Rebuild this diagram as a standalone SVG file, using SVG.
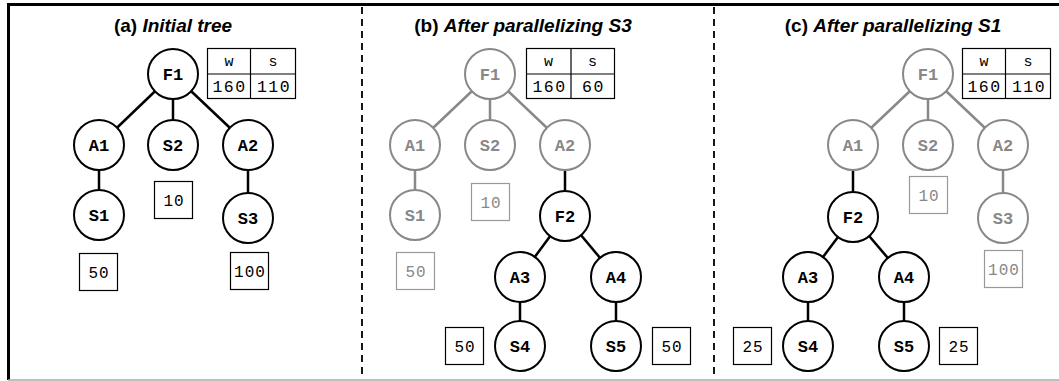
<svg xmlns="http://www.w3.org/2000/svg" width="1059" height="381" viewBox="0 0 1059 381">
  <style>
    .frame { stroke: #000; stroke-width: 3; fill: none; }
    .base { stroke: #aaa; stroke-width: 1.5; }
    .sep { stroke: #000; stroke-width: 1.8; stroke-dasharray: 7 5; }
    .title { font-family: "Liberation Sans", Arial, sans-serif; font-weight: bold; font-size: 19px; text-anchor: middle; fill: #000; }
    .title .it { font-style: italic; }
    .edge { stroke: #000; stroke-width: 2.5; }
    .edge.dim { stroke: #888; }
    .node circle { fill: #fff; stroke: #000; stroke-width: 2; }
    .node text { font-family: "Liberation Mono", "Courier New", monospace; font-weight: bold; font-size: 17px; text-anchor: middle; fill: #000; }
    .node.dim circle { stroke: #888; }
    .node.dim text { fill: #888; }
    .cost rect { fill: #fff; stroke: #000; stroke-width: 1.2; }
    .cost text { font-family: "Liberation Mono", "Courier New", monospace; font-size: 16px; letter-spacing: 1px; text-anchor: middle; fill: #000; }
    .cost.dim rect { stroke: #999; }
    .cost.dim text { fill: #888; }
    .tbl rect, .tbl line { fill: #fff; stroke: #000; stroke-width: 1.2; }
    .tbl text { font-family: "Liberation Mono", "Courier New", monospace; font-size: 16.5px; letter-spacing: 1.5px; text-anchor: middle; fill: #000; }
    .tbl text.hd { font-size: 15px; letter-spacing: 0; }
  </style>

  <!-- outer frame and panel separators -->
  <g id="frame">
    <line class="frame" x1="7" y1="4.5" x2="1059" y2="4.5"/>
    <line class="frame" x1="8.5" y1="3" x2="8.5" y2="380"/>
    <line class="base" x1="8" y1="380" x2="1059" y2="380"/>
    <line class="sep" x1="362" y1="7" x2="362" y2="378"/>
    <line class="sep" x1="714" y1="7" x2="714" y2="378"/>
  </g>

  <!-- panel titles -->
  <g id="titles">
    <text class="title" x="173" y="32">(a) <tspan class="it">Initial tree</tspan></text>
    <text class="title" x="523" y="32">(b) <tspan class="it">After parallelizing S3</tspan></text>
    <text class="title" x="893" y="32">(c) <tspan class="it">After parallelizing S1</tspan></text>
  </g>

  <!-- connectors -->
  <g id="connectors">
    <!-- (a) -->
    <line class="edge" x1="173" y1="74" x2="99" y2="145"/>
    <line class="edge" x1="173" y1="74" x2="173" y2="145"/>
    <line class="edge" x1="173" y1="74" x2="248" y2="145"/>
    <line class="edge" x1="99" y1="145" x2="99" y2="215"/>
    <line class="edge" x1="248" y1="145" x2="248" y2="218"/>
    <!-- (b) -->
    <line class="edge dim" x1="490" y1="74" x2="415" y2="145"/>
    <line class="edge dim" x1="490" y1="74" x2="490" y2="145"/>
    <line class="edge dim" x1="490" y1="74" x2="565" y2="145"/>
    <line class="edge dim" x1="415" y1="145" x2="415" y2="215"/>
    <line class="edge" x1="565" y1="145" x2="565" y2="216"/>
    <line class="edge" x1="565" y1="216" x2="520" y2="277"/>
    <line class="edge" x1="565" y1="216" x2="616" y2="277"/>
    <line class="edge" x1="520" y1="277" x2="520" y2="346"/>
    <line class="edge" x1="616" y1="277" x2="616" y2="346"/>
    <!-- (c) -->
    <line class="edge dim" x1="928" y1="74" x2="853" y2="145"/>
    <line class="edge dim" x1="928" y1="74" x2="928" y2="145"/>
    <line class="edge dim" x1="928" y1="74" x2="1003" y2="145"/>
    <line class="edge dim" x1="1003" y1="145" x2="1003" y2="218"/>
    <line class="edge" x1="853" y1="145" x2="853" y2="217"/>
    <line class="edge" x1="853" y1="217" x2="808" y2="277"/>
    <line class="edge" x1="853" y1="217" x2="904" y2="277"/>
    <line class="edge" x1="808" y1="277" x2="808" y2="346"/>
    <line class="edge" x1="904" y1="277" x2="904" y2="346"/>
  </g>

  <!-- (a) initial tree -->
  <g id="a-F1" class="node"><circle cx="173" cy="74" r="25"/><text x="173" y="80">F1</text></g>
  <g id="a-A1" class="node"><circle cx="99" cy="145" r="25"/><text x="99" y="151">A1</text></g>
  <g id="a-S2" class="node"><circle cx="173" cy="145" r="25"/><text x="173" y="151">S2</text></g>
  <g id="a-A2" class="node"><circle cx="248" cy="145" r="25"/><text x="248" y="151">A2</text></g>
  <g id="a-S1" class="node"><circle cx="99" cy="215" r="25"/><text x="99" y="221">S1</text></g>
  <g id="a-S3" class="node"><circle cx="248" cy="218" r="25"/><text x="248" y="224">S3</text></g>
  <g id="a-cost-S2" class="cost"><rect x="154.5" y="181.5" width="38" height="37"/><text x="174" y="206">10</text></g>
  <g id="a-cost-S1" class="cost"><rect x="79.5" y="253.5" width="38" height="37"/><text x="99" y="278">50</text></g>
  <g id="a-cost-S3" class="cost"><rect x="230.5" y="252.5" width="38" height="37"/><text x="250" y="277">100</text></g>
  <g id="a-table" class="tbl">
    <rect x="207.5" y="48.5" width="88" height="50"/>
    <line x1="207.5" y1="74" x2="295.5" y2="74"/>
    <line x1="250.5" y1="48.5" x2="250.5" y2="98.5"/>
    <text class="hd" x="229" y="66">w</text><text class="hd" x="273" y="66">s</text>
    <text x="229.5" y="92">160</text><text x="274" y="92">110</text>
  </g>

  <!-- (b) after parallelizing S3 -->
  <g id="b-F1" class="node dim"><circle cx="490" cy="74" r="25"/><text x="490" y="80">F1</text></g>
  <g id="b-A1" class="node dim"><circle cx="415" cy="145" r="25"/><text x="415" y="151">A1</text></g>
  <g id="b-S2" class="node dim"><circle cx="490" cy="145" r="25"/><text x="490" y="151">S2</text></g>
  <g id="b-A2" class="node dim"><circle cx="565" cy="145" r="25"/><text x="565" y="151">A2</text></g>
  <g id="b-S1" class="node dim"><circle cx="415" cy="215" r="25"/><text x="415" y="221">S1</text></g>
  <g id="b-F2" class="node"><circle cx="565" cy="216" r="25"/><text x="565" y="222">F2</text></g>
  <g id="b-A3" class="node"><circle cx="520" cy="277" r="25"/><text x="520" y="283">A3</text></g>
  <g id="b-A4" class="node"><circle cx="616" cy="277" r="25"/><text x="616" y="283">A4</text></g>
  <g id="b-S4" class="node"><circle cx="520" cy="346" r="25"/><text x="520" y="352">S4</text></g>
  <g id="b-S5" class="node"><circle cx="616" cy="346" r="25"/><text x="616" y="352">S5</text></g>
  <g id="b-cost-S2" class="cost dim"><rect x="471.5" y="183.5" width="38" height="37"/><text x="491" y="208">10</text></g>
  <g id="b-cost-S1" class="cost dim"><rect x="396.5" y="252.5" width="38" height="37"/><text x="416" y="277">50</text></g>
  <g id="b-cost-S4" class="cost"><rect x="445.5" y="327.5" width="38" height="37"/><text x="465" y="352">50</text></g>
  <g id="b-cost-S5" class="cost"><rect x="652.5" y="327.5" width="38" height="37"/><text x="672" y="352">50</text></g>
  <g id="b-table" class="tbl">
    <rect x="526.5" y="48.5" width="88" height="50"/>
    <line x1="526.5" y1="74" x2="614.5" y2="74"/>
    <line x1="571" y1="48.5" x2="571" y2="98.5"/>
    <text class="hd" x="548.5" y="66">w</text><text class="hd" x="592.5" y="66">s</text>
    <text x="549.5" y="92">160</text><text x="593.5" y="92">60</text>
  </g>

  <!-- (c) after parallelizing S1 -->
  <g id="c-F1" class="node dim"><circle cx="928" cy="74" r="25"/><text x="928" y="80">F1</text></g>
  <g id="c-A1" class="node dim"><circle cx="853" cy="145" r="25"/><text x="853" y="151">A1</text></g>
  <g id="c-S2" class="node dim"><circle cx="928" cy="145" r="25"/><text x="928" y="151">S2</text></g>
  <g id="c-A2" class="node dim"><circle cx="1003" cy="145" r="25"/><text x="1003" y="151">A2</text></g>
  <g id="c-S3" class="node dim"><circle cx="1003" cy="218" r="25"/><text x="1003" y="224">S3</text></g>
  <g id="c-F2" class="node"><circle cx="853" cy="217" r="25"/><text x="853" y="223">F2</text></g>
  <g id="c-A3" class="node"><circle cx="808" cy="277" r="25"/><text x="808" y="283">A3</text></g>
  <g id="c-A4" class="node"><circle cx="904" cy="277" r="25"/><text x="904" y="283">A4</text></g>
  <g id="c-S4" class="node"><circle cx="808" cy="346" r="25"/><text x="808" y="352">S4</text></g>
  <g id="c-S5" class="node"><circle cx="904" cy="346" r="25"/><text x="904" y="352">S5</text></g>
  <g id="c-cost-S2" class="cost dim"><rect x="909.5" y="176.5" width="38" height="37"/><text x="929" y="201">10</text></g>
  <g id="c-cost-S3" class="cost dim"><rect x="984.5" y="250.5" width="38" height="37"/><text x="1004" y="275">100</text></g>
  <g id="c-cost-S4" class="cost"><rect x="733.5" y="327.5" width="38" height="37"/><text x="753" y="352">25</text></g>
  <g id="c-cost-S5" class="cost"><rect x="939.5" y="327.5" width="38" height="37"/><text x="959" y="352">25</text></g>
  <g id="c-table" class="tbl">
    <rect x="962.5" y="48.5" width="88" height="50"/>
    <line x1="962.5" y1="74" x2="1050.5" y2="74"/>
    <line x1="1005.5" y1="48.5" x2="1005.5" y2="98.5"/>
    <text class="hd" x="984" y="66">w</text><text class="hd" x="1028" y="66">s</text>
    <text x="984.5" y="92">160</text><text x="1029" y="92">110</text>
  </g>
</svg>
